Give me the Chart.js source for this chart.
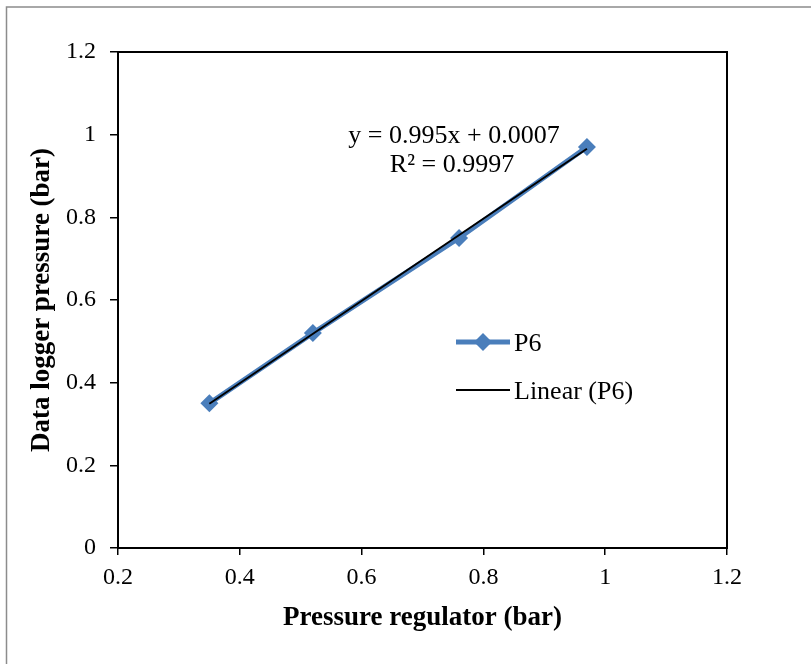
<!DOCTYPE html>
<html>
<head>
<meta charset="utf-8">
<script src="https://cdn.jsdelivr.net/npm/chart.js@4"></script>
<style>
  html, body { margin: 0; padding: 0; background: #fff; }
  canvas { display: block; }
</style>
</head>
<body>
<canvas id="chart" width="811" height="664"></canvas>
<script>
const regulator = [0.35, 0.52, 0.76, 0.97];
const logger = [0.35, 0.52, 0.75, 0.97];
const seriesName = "P6";
const slope = 0.995;
const intercept = 0.0007;
const rSquared = 0.9997;
const xTicks = [0.2, 0.4, 0.6, 0.8, 1, 1.2];
const yTicks = [0, 0.2, 0.4, 0.6, 0.8, 1, 1.2];

const BLUE = "#4a7ebb";
const SERIF = "'Liberation Serif', 'Times New Roman', serif";

const points = regulator.map((x, i) => ({ x: x, y: logger[i] }));
const xMin = Math.min(...regulator);
const xMax = Math.max(...regulator);
const trend = [
  { x: xMin, y: slope * xMin + intercept },
  { x: xMax, y: slope * xMax + intercept },
];

const frame = {
  id: "frame",
  afterDraw(chart) {
    const { ctx, chartArea } = chart;
    ctx.save();
    // outer gray border
    ctx.strokeStyle = "#8c8c8c";
    ctx.lineWidth = 1.5;
    ctx.strokeRect(6.5, 7, 1000, 1000);
    // plot area box
    ctx.strokeStyle = "#000";
    ctx.lineWidth = 2;
    ctx.strokeRect(chartArea.left, chartArea.top, chartArea.right - chartArea.left, chartArea.bottom - chartArea.top);

    // trendline equation
    ctx.fillStyle = "#000";
    ctx.font = "26px " + SERIF;
    ctx.textAlign = "center";
    ctx.textBaseline = "middle";
    ctx.fillText("y = " + slope + "x + " + intercept.toFixed(4), 454, 136);
    ctx.fillText("R\u00B2 = " + rSquared, 452, 165);

    // legend
    const lx = 456, lx2 = 510;
    ctx.strokeStyle = BLUE;
    ctx.lineWidth = 5;
    ctx.beginPath();
    ctx.moveTo(lx, 342);
    ctx.lineTo(lx2, 342);
    ctx.stroke();
    ctx.fillStyle = BLUE;
    ctx.beginPath();
    ctx.moveTo(483, 333);
    ctx.lineTo(492, 342);
    ctx.lineTo(483, 351);
    ctx.lineTo(474, 342);
    ctx.closePath();
    ctx.fill();
    ctx.strokeStyle = "#000";
    ctx.lineWidth = 1.8;
    ctx.beginPath();
    ctx.moveTo(lx, 390);
    ctx.lineTo(lx2, 390);
    ctx.stroke();
    ctx.fillStyle = "#000";
    ctx.font = "26px " + SERIF;
    ctx.textAlign = "left";
    ctx.fillText(seriesName, 514, 344);
    ctx.fillText("Linear (" + seriesName + ")", 514, 392);
    ctx.restore();
  },
};

new Chart(document.getElementById("chart"), {
  type: "scatter",
  data: {
    datasets: [
      {
        label: seriesName,
        data: points,
        showLine: true,
        borderColor: BLUE,
        backgroundColor: BLUE,
        borderWidth: 5,
        pointStyle: "rectRot",
        pointRadius: 9,
        pointBorderWidth: 0,
        order: 1,
      },
      {
        label: "Linear (" + seriesName + ")",
        data: trend,
        showLine: true,
        borderColor: "#000",
        borderWidth: 2,
        pointRadius: 0,
        order: 0,
      },
    ],
  },
  options: {
    responsive: false,
    animation: false,
    layout: { padding: { left: 0, top: 52, right: 84, bottom: 0 } },
    plugins: { legend: { display: false }, tooltip: { enabled: false } },
    scales: {
      x: {
        type: "linear",
        min: xTicks[0],
        max: xTicks[xTicks.length - 1],
        afterBuildTicks: (s) => { s.ticks = xTicks.map((v) => ({ value: v })); },
        afterFit: (s) => { s.height = 116; },
        border: { display: false },
        grid: { drawOnChartArea: false, color: "#000", tickLength: 7, lineWidth: 1.5 },
        ticks: { color: "#000", font: { family: SERIF, size: 24 }, padding: 8, callback: (v) => String(v) },
        title: {
          display: true,
          text: "Pressure regulator (bar)",
          color: "#000",
          font: { family: SERIF, size: 27, weight: "bold" },
          padding: { top: 0, bottom: 30 },
        },
      },
      y: {
        type: "linear",
        min: yTicks[0],
        max: yTicks[yTicks.length - 1],
        afterBuildTicks: (s) => { s.ticks = yTicks.map((v) => ({ value: v })); },
        afterFit: (s) => { s.width = 118; },
        border: { display: false },
        grid: { drawOnChartArea: false, color: "#000", tickLength: 8, lineWidth: 1.5 },
        ticks: { color: "#000", font: { family: SERIF, size: 24 }, padding: 14, callback: (v) => String(v) },
        title: {
          display: true,
          text: "Data logger pressure (bar)",
          color: "#000",
          font: { family: SERIF, size: 27, weight: "bold" },
          padding: { top: 26, bottom: 0 },
        },
      },
    },
  },
  plugins: [frame],
});
</script>
</body>
</html>
